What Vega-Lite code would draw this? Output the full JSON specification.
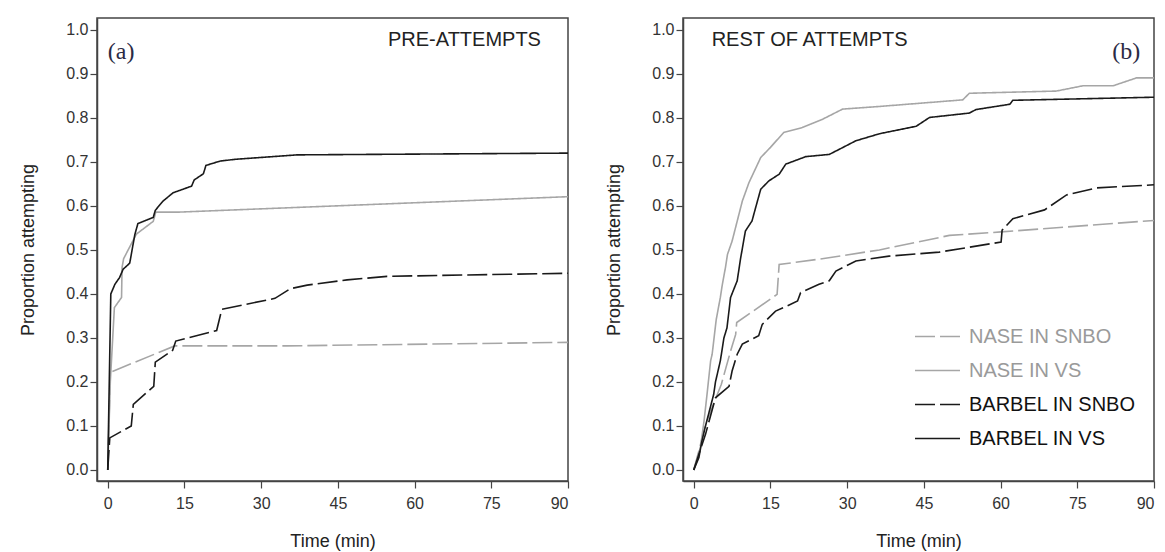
{
  "$schema": "https://vega.github.io/schema/vega-lite/v6.json",
  "padding": {"left": 19, "top": 17, "right": 2, "bottom": 2},
  "background": "white",
  "config": {
    "font": "Liberation Sans",
    "view": {"stroke": "#444444", "strokeWidth": 1.5},
    "axis": {
      "grid": false,
      "domainColor": "#444444",
      "domainWidth": 1.5,
      "tickColor": "#444444",
      "tickWidth": 1.2,
      "tickSize": 7,
      "labelFont": "Liberation Sans",
      "labelFontSize": 16,
      "labelColor": "#333333",
      "labelPadding": 2,
      "titleFont": "Liberation Sans",
      "titleFontSize": 18,
      "titleFontWeight": "normal",
      "titleColor": "#222222"
    }
  },
  "datasets": {
    "curves": [
      {"panel": "a", "series": "NASE IN SNBO", "t": 0, "p": 0},
      {"panel": "a", "series": "NASE IN SNBO", "t": 0.5, "p": 0.222},
      {"panel": "a", "series": "NASE IN SNBO", "t": 13.1, "p": 0.282},
      {"panel": "a", "series": "NASE IN SNBO", "t": 35, "p": 0.282},
      {"panel": "a", "series": "NASE IN SNBO", "t": 90, "p": 0.29},

      {"panel": "a", "series": "NASE IN VS", "t": 0, "p": 0},
      {"panel": "a", "series": "NASE IN VS", "t": 0.5, "p": 0.2},
      {"panel": "a", "series": "NASE IN VS", "t": 1.3, "p": 0.369},
      {"panel": "a", "series": "NASE IN VS", "t": 2.7, "p": 0.392},
      {"panel": "a", "series": "NASE IN VS", "t": 2.8, "p": 0.46},
      {"panel": "a", "series": "NASE IN VS", "t": 3.1, "p": 0.48},
      {"panel": "a", "series": "NASE IN VS", "t": 5.6, "p": 0.536},
      {"panel": "a", "series": "NASE IN VS", "t": 8.9, "p": 0.565},
      {"panel": "a", "series": "NASE IN VS", "t": 9.4, "p": 0.586},
      {"panel": "a", "series": "NASE IN VS", "t": 14, "p": 0.586},
      {"panel": "a", "series": "NASE IN VS", "t": 90, "p": 0.621},

      {"panel": "a", "series": "BARBEL IN SNBO", "t": 0, "p": 0},
      {"panel": "a", "series": "BARBEL IN SNBO", "t": 0.4, "p": 0.073},
      {"panel": "a", "series": "BARBEL IN SNBO", "t": 4.6, "p": 0.1},
      {"panel": "a", "series": "BARBEL IN SNBO", "t": 5.0, "p": 0.149},
      {"panel": "a", "series": "BARBEL IN SNBO", "t": 7.6, "p": 0.176},
      {"panel": "a", "series": "BARBEL IN SNBO", "t": 9.0, "p": 0.19},
      {"panel": "a", "series": "BARBEL IN SNBO", "t": 9.3, "p": 0.245},
      {"panel": "a", "series": "BARBEL IN SNBO", "t": 12.7, "p": 0.272},
      {"panel": "a", "series": "BARBEL IN SNBO", "t": 13.3, "p": 0.293},
      {"panel": "a", "series": "BARBEL IN SNBO", "t": 21.3, "p": 0.317},
      {"panel": "a", "series": "BARBEL IN SNBO", "t": 22.3, "p": 0.365},
      {"panel": "a", "series": "BARBEL IN SNBO", "t": 32.7, "p": 0.39},
      {"panel": "a", "series": "BARBEL IN SNBO", "t": 35.7, "p": 0.412},
      {"panel": "a", "series": "BARBEL IN SNBO", "t": 39, "p": 0.42},
      {"panel": "a", "series": "BARBEL IN SNBO", "t": 46.8, "p": 0.432},
      {"panel": "a", "series": "BARBEL IN SNBO", "t": 54.6, "p": 0.44},
      {"panel": "a", "series": "BARBEL IN SNBO", "t": 90, "p": 0.447},

      {"panel": "a", "series": "BARBEL IN VS", "t": 0, "p": 0},
      {"panel": "a", "series": "BARBEL IN VS", "t": 0.6, "p": 0.4},
      {"panel": "a", "series": "BARBEL IN VS", "t": 1.4, "p": 0.422},
      {"panel": "a", "series": "BARBEL IN VS", "t": 2.3, "p": 0.437},
      {"panel": "a", "series": "BARBEL IN VS", "t": 3.0, "p": 0.456},
      {"panel": "a", "series": "BARBEL IN VS", "t": 4.3, "p": 0.47},
      {"panel": "a", "series": "BARBEL IN VS", "t": 5.3, "p": 0.535},
      {"panel": "a", "series": "BARBEL IN VS", "t": 5.9, "p": 0.56},
      {"panel": "a", "series": "BARBEL IN VS", "t": 8.9, "p": 0.574},
      {"panel": "a", "series": "BARBEL IN VS", "t": 9.3, "p": 0.59},
      {"panel": "a", "series": "BARBEL IN VS", "t": 10.8, "p": 0.611},
      {"panel": "a", "series": "BARBEL IN VS", "t": 12.8, "p": 0.63},
      {"panel": "a", "series": "BARBEL IN VS", "t": 16.4, "p": 0.645},
      {"panel": "a", "series": "BARBEL IN VS", "t": 16.9, "p": 0.659},
      {"panel": "a", "series": "BARBEL IN VS", "t": 18.7, "p": 0.673},
      {"panel": "a", "series": "BARBEL IN VS", "t": 19.2, "p": 0.692},
      {"panel": "a", "series": "BARBEL IN VS", "t": 22, "p": 0.702},
      {"panel": "a", "series": "BARBEL IN VS", "t": 25, "p": 0.706},
      {"panel": "a", "series": "BARBEL IN VS", "t": 37, "p": 0.716},
      {"panel": "a", "series": "BARBEL IN VS", "t": 90, "p": 0.72},

      {"panel": "b", "series": "NASE IN SNBO", "t": 0, "p": 0},
      {"panel": "b", "series": "NASE IN SNBO", "t": 1.0, "p": 0.043},
      {"panel": "b", "series": "NASE IN SNBO", "t": 2.3, "p": 0.104},
      {"panel": "b", "series": "NASE IN SNBO", "t": 5.4, "p": 0.195},
      {"panel": "b", "series": "NASE IN SNBO", "t": 7.2, "p": 0.27},
      {"panel": "b", "series": "NASE IN SNBO", "t": 8.2, "p": 0.308},
      {"panel": "b", "series": "NASE IN SNBO", "t": 8.4, "p": 0.335},
      {"panel": "b", "series": "NASE IN SNBO", "t": 16.3, "p": 0.399},
      {"panel": "b", "series": "NASE IN SNBO", "t": 16.7, "p": 0.467},
      {"panel": "b", "series": "NASE IN SNBO", "t": 24.5, "p": 0.479},
      {"panel": "b", "series": "NASE IN SNBO", "t": 36.3, "p": 0.5},
      {"panel": "b", "series": "NASE IN SNBO", "t": 50, "p": 0.533},
      {"panel": "b", "series": "NASE IN SNBO", "t": 60.1, "p": 0.541},
      {"panel": "b", "series": "NASE IN SNBO", "t": 90, "p": 0.567},

      {"panel": "b", "series": "NASE IN VS", "t": 0, "p": 0},
      {"panel": "b", "series": "NASE IN VS", "t": 1.3, "p": 0.051},
      {"panel": "b", "series": "NASE IN VS", "t": 2.0, "p": 0.11},
      {"panel": "b", "series": "NASE IN VS", "t": 2.6, "p": 0.172},
      {"panel": "b", "series": "NASE IN VS", "t": 3.3, "p": 0.248},
      {"panel": "b", "series": "NASE IN VS", "t": 3.6, "p": 0.263},
      {"panel": "b", "series": "NASE IN VS", "t": 4.4, "p": 0.342},
      {"panel": "b", "series": "NASE IN VS", "t": 5.2, "p": 0.392},
      {"panel": "b", "series": "NASE IN VS", "t": 5.6, "p": 0.422},
      {"panel": "b", "series": "NASE IN VS", "t": 6.2, "p": 0.46},
      {"panel": "b", "series": "NASE IN VS", "t": 6.6, "p": 0.49},
      {"panel": "b", "series": "NASE IN VS", "t": 7.5, "p": 0.52},
      {"panel": "b", "series": "NASE IN VS", "t": 9.5, "p": 0.611},
      {"panel": "b", "series": "NASE IN VS", "t": 10.8, "p": 0.653},
      {"panel": "b", "series": "NASE IN VS", "t": 13.1, "p": 0.71},
      {"panel": "b", "series": "NASE IN VS", "t": 15, "p": 0.733},
      {"panel": "b", "series": "NASE IN VS", "t": 17.6, "p": 0.767},
      {"panel": "b", "series": "NASE IN VS", "t": 21.2, "p": 0.778},
      {"panel": "b", "series": "NASE IN VS", "t": 25.2, "p": 0.797},
      {"panel": "b", "series": "NASE IN VS", "t": 29.1, "p": 0.82},
      {"panel": "b", "series": "NASE IN VS", "t": 36.3, "p": 0.826},
      {"panel": "b", "series": "NASE IN VS", "t": 52.6, "p": 0.841},
      {"panel": "b", "series": "NASE IN VS", "t": 53.9, "p": 0.856},
      {"panel": "b", "series": "NASE IN VS", "t": 70.9, "p": 0.861},
      {"panel": "b", "series": "NASE IN VS", "t": 76.1, "p": 0.873},
      {"panel": "b", "series": "NASE IN VS", "t": 82, "p": 0.873},
      {"panel": "b", "series": "NASE IN VS", "t": 86.6, "p": 0.891},
      {"panel": "b", "series": "NASE IN VS", "t": 90, "p": 0.891},

      {"panel": "b", "series": "BARBEL IN SNBO", "t": 0, "p": 0},
      {"panel": "b", "series": "BARBEL IN SNBO", "t": 1.0, "p": 0.036},
      {"panel": "b", "series": "BARBEL IN SNBO", "t": 2.3, "p": 0.081},
      {"panel": "b", "series": "BARBEL IN SNBO", "t": 4.25, "p": 0.164},
      {"panel": "b", "series": "BARBEL IN SNBO", "t": 6.9, "p": 0.19},
      {"panel": "b", "series": "BARBEL IN SNBO", "t": 7.5, "p": 0.225},
      {"panel": "b", "series": "BARBEL IN SNBO", "t": 8.5, "p": 0.263},
      {"panel": "b", "series": "BARBEL IN SNBO", "t": 9.5, "p": 0.286},
      {"panel": "b", "series": "BARBEL IN SNBO", "t": 12.7, "p": 0.305},
      {"panel": "b", "series": "BARBEL IN SNBO", "t": 13.4, "p": 0.331},
      {"panel": "b", "series": "BARBEL IN SNBO", "t": 16, "p": 0.361},
      {"panel": "b", "series": "BARBEL IN SNBO", "t": 18.3, "p": 0.373},
      {"panel": "b", "series": "BARBEL IN SNBO", "t": 20.3, "p": 0.384},
      {"panel": "b", "series": "BARBEL IN SNBO", "t": 20.9, "p": 0.403},
      {"panel": "b", "series": "BARBEL IN SNBO", "t": 24.5, "p": 0.422},
      {"panel": "b", "series": "BARBEL IN SNBO", "t": 26.5, "p": 0.43},
      {"panel": "b", "series": "BARBEL IN SNBO", "t": 27.8, "p": 0.452},
      {"panel": "b", "series": "BARBEL IN SNBO", "t": 31.7, "p": 0.475},
      {"panel": "b", "series": "BARBEL IN SNBO", "t": 38.2, "p": 0.486},
      {"panel": "b", "series": "BARBEL IN SNBO", "t": 48, "p": 0.495},
      {"panel": "b", "series": "BARBEL IN SNBO", "t": 60.1, "p": 0.518},
      {"panel": "b", "series": "BARBEL IN SNBO", "t": 60.3, "p": 0.545},
      {"panel": "b", "series": "BARBEL IN SNBO", "t": 62.4, "p": 0.571},
      {"panel": "b", "series": "BARBEL IN SNBO", "t": 68.6, "p": 0.591},
      {"panel": "b", "series": "BARBEL IN SNBO", "t": 72.9, "p": 0.625},
      {"panel": "b", "series": "BARBEL IN SNBO", "t": 78.8, "p": 0.641},
      {"panel": "b", "series": "BARBEL IN SNBO", "t": 90, "p": 0.648},

      {"panel": "b", "series": "BARBEL IN VS", "t": 0, "p": 0},
      {"panel": "b", "series": "BARBEL IN VS", "t": 1.0, "p": 0.028},
      {"panel": "b", "series": "BARBEL IN VS", "t": 1.6, "p": 0.066},
      {"panel": "b", "series": "BARBEL IN VS", "t": 2.3, "p": 0.1},
      {"panel": "b", "series": "BARBEL IN VS", "t": 3.9, "p": 0.172},
      {"panel": "b", "series": "BARBEL IN VS", "t": 4.25, "p": 0.2},
      {"panel": "b", "series": "BARBEL IN VS", "t": 5.2, "p": 0.248},
      {"panel": "b", "series": "BARBEL IN VS", "t": 5.9, "p": 0.3},
      {"panel": "b", "series": "BARBEL IN VS", "t": 6.5, "p": 0.323},
      {"panel": "b", "series": "BARBEL IN VS", "t": 7.2, "p": 0.392},
      {"panel": "b", "series": "BARBEL IN VS", "t": 8.5, "p": 0.43},
      {"panel": "b", "series": "BARBEL IN VS", "t": 9.15, "p": 0.48},
      {"panel": "b", "series": "BARBEL IN VS", "t": 10.1, "p": 0.543},
      {"panel": "b", "series": "BARBEL IN VS", "t": 11.4, "p": 0.566},
      {"panel": "b", "series": "BARBEL IN VS", "t": 12.1, "p": 0.596},
      {"panel": "b", "series": "BARBEL IN VS", "t": 13.1, "p": 0.638},
      {"panel": "b", "series": "BARBEL IN VS", "t": 14.7, "p": 0.657},
      {"panel": "b", "series": "BARBEL IN VS", "t": 16.7, "p": 0.672},
      {"panel": "b", "series": "BARBEL IN VS", "t": 18, "p": 0.695},
      {"panel": "b", "series": "BARBEL IN VS", "t": 21.9, "p": 0.712},
      {"panel": "b", "series": "BARBEL IN VS", "t": 26.5, "p": 0.717},
      {"panel": "b", "series": "BARBEL IN VS", "t": 31.7, "p": 0.748},
      {"panel": "b", "series": "BARBEL IN VS", "t": 36.3, "p": 0.764},
      {"panel": "b", "series": "BARBEL IN VS", "t": 43.5, "p": 0.781},
      {"panel": "b", "series": "BARBEL IN VS", "t": 46.1, "p": 0.801},
      {"panel": "b", "series": "BARBEL IN VS", "t": 53.9, "p": 0.811},
      {"panel": "b", "series": "BARBEL IN VS", "t": 55.2, "p": 0.819},
      {"panel": "b", "series": "BARBEL IN VS", "t": 61.8, "p": 0.831},
      {"panel": "b", "series": "BARBEL IN VS", "t": 62.4, "p": 0.84},
      {"panel": "b", "series": "BARBEL IN VS", "t": 90, "p": 0.847}
    ]
  },
  "spacing": 33,
  "resolve": {
    "scale": {"color": "independent", "strokeDash": "independent"},
    "legend": {"color": "independent", "strokeDash": "independent"}
  },
  "hconcat": [
    {
      "width": 471,
      "height": 463,
      "layer": [
        {
          "data": {"name": "curves"},
          "transform": [{"filter": "datum.panel === 'a'"}],
          "mark": {"type": "line", "strokeWidth": 1.6},
          "encoding": {
            "x": {"field": "t", "type": "quantitative", "title": "Time (min)",
                  "scale": {"domain": [-2.1, 90], "nice": false, "zero": false},
                  "axis": {"values": [0, 15, 30, 45, 60, 75, 90], "titlePadding": 21, "labelPadding": 7}},
            "y": {"field": "p", "type": "quantitative", "title": "Proportion attempting",
                  "scale": {"domain": [-0.025, 1.027], "nice": false, "zero": false},
                  "axis": {"values": [0, 0.1, 0.2, 0.3, 0.4, 0.5, 0.6, 0.7, 0.8, 0.9, 1.0], "format": ".1f", "titlePadding": 28}},
            "color": {"field": "series", "type": "nominal",
                      "scale": {"domain": ["NASE IN SNBO", "NASE IN VS", "BARBEL IN SNBO", "BARBEL IN VS"], "range": ["#a6a6a6", "#a6a6a6", "#1a1a1a", "#1a1a1a"]},
                      "legend": null},
            "strokeDash": {"field": "series", "type": "nominal",
                      "scale": {"domain": ["NASE IN SNBO", "NASE IN VS", "BARBEL IN SNBO", "BARBEL IN VS"], "range": [[20, 5], [1, 0], [20, 5], [1, 0]]},
                      "legend": null}
          }
        },
        {
          "data": {"values": [{"label": "(a)"}]},
          "mark": {"type": "text", "font": "Liberation Serif", "fontSize": 24, "align": "left", "baseline": "middle", "color": "#2b2b45"},
          "encoding": {
            "x": {"datum": 0, "type": "quantitative", "title": "Time (min)"},
            "y": {"datum": 0.95, "type": "quantitative", "title": "Proportion attempting"},
            "text": {"field": "label"}
          }
        },
        {
          "data": {"values": [{"label": "PRE-ATTEMPTS"}]},
          "mark": {"type": "text", "fontSize": 20, "align": "left", "baseline": "middle", "color": "#222222"},
          "encoding": {
            "x": {"datum": 54.8, "type": "quantitative", "title": "Time (min)"},
            "y": {"datum": 0.976, "type": "quantitative", "title": "Proportion attempting"},
            "text": {"field": "label"}
          }
        }
      ]
    },
    {
      "width": 471,
      "height": 463,
      "layer": [
        {
          "data": {"name": "curves"},
          "transform": [{"filter": "datum.panel === 'b'"}],
          "mark": {"type": "line", "strokeWidth": 1.6},
          "encoding": {
            "x": {"field": "t", "type": "quantitative", "title": "Time (min)",
                  "scale": {"domain": [-2.1, 90], "nice": false, "zero": false},
                  "axis": {"values": [0, 15, 30, 45, 60, 75, 90], "titlePadding": 21, "labelPadding": 7}},
            "y": {"field": "p", "type": "quantitative", "title": "Proportion attempting",
                  "scale": {"domain": [-0.025, 1.027], "nice": false, "zero": false},
                  "axis": {"values": [0, 0.1, 0.2, 0.3, 0.4, 0.5, 0.6, 0.7, 0.8, 0.9, 1.0], "format": ".1f", "titlePadding": 28}},
            "color": {"field": "series", "type": "nominal",
                      "scale": {"domain": ["NASE IN SNBO", "NASE IN VS", "BARBEL IN SNBO", "BARBEL IN VS"], "range": ["#a6a6a6", "#a6a6a6", "#1a1a1a", "#1a1a1a"]},
                      "legend": {"orient": "none", "legendX": 231, "legendY": 295, "title": null,
                                 "symbolType": "stroke", "symbolSize": 2025, "symbolStrokeWidth": 1.6,
                                 "labelFont": "Liberation Sans", "labelFontSize": 20, "labelOffset": 8, "rowPadding": -15,
                                 "labelLimit": 300,
                                 "encode": {"labels": {"update": {"fill": {"signal": "indexof(datum.label, 'NASE') === 0 ? '#9a9a9a' : '#111111'"}}}}}},
            "strokeDash": {"field": "series", "type": "nominal",
                      "scale": {"domain": ["NASE IN SNBO", "NASE IN VS", "BARBEL IN SNBO", "BARBEL IN VS"], "range": [[20, 5], [1, 0], [20, 5], [1, 0]]},
                      "legend": {"orient": "none", "legendX": 231, "legendY": 295, "title": null,
                                 "symbolType": "stroke", "symbolSize": 2025, "symbolStrokeWidth": 1.6,
                                 "labelFont": "Liberation Sans", "labelFontSize": 20, "labelOffset": 8, "rowPadding": -15,
                                 "labelLimit": 300,
                                 "encode": {"labels": {"update": {"fill": {"signal": "indexof(datum.label, 'NASE') === 0 ? '#9a9a9a' : '#111111'"}}}}}}
          }
        },
        {
          "data": {"values": [{"label": "REST OF ATTEMPTS"}]},
          "mark": {"type": "text", "fontSize": 20, "align": "left", "baseline": "middle", "color": "#222222"},
          "encoding": {
            "x": {"datum": 3.5, "type": "quantitative", "title": "Time (min)"},
            "y": {"datum": 0.976, "type": "quantitative", "title": "Proportion attempting"},
            "text": {"field": "label"}
          }
        },
        {
          "data": {"values": [{"label": "(b)"}]},
          "mark": {"type": "text", "font": "Liberation Serif", "fontSize": 24, "align": "right", "baseline": "middle", "color": "#2b2b45"},
          "encoding": {
            "x": {"datum": 87.3, "type": "quantitative", "title": "Time (min)"},
            "y": {"datum": 0.95, "type": "quantitative", "title": "Proportion attempting"},
            "text": {"field": "label"}
          }
        }
      ]
    }
  ]
}
